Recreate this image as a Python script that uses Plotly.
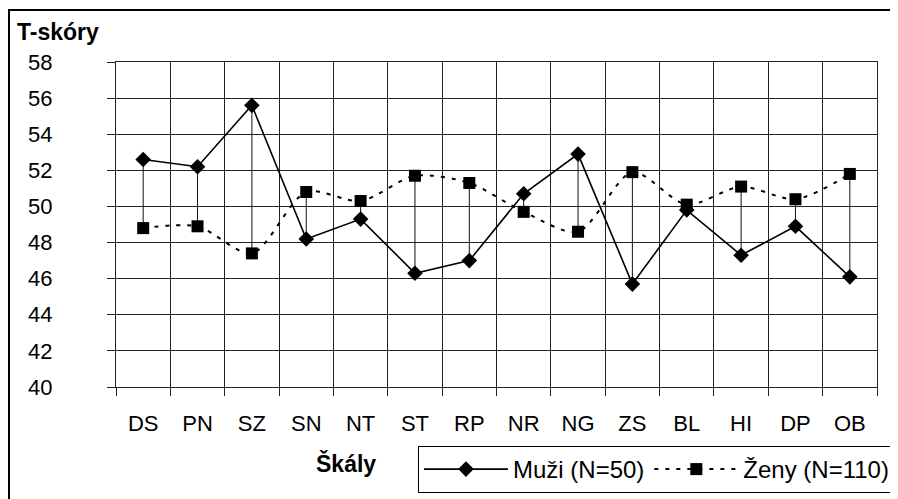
import plotly.graph_objects as go

categories = ["DS", "PN", "SZ", "SN", "NT", "ST", "RP", "NR", "NG", "ZS", "BL", "HI", "DP", "OB"]
muzi = [52.6, 52.2, 55.6, 48.2, 49.3, 46.3, 47.0, 50.7, 52.9, 45.7, 49.8, 47.3, 48.9, 46.1]
zeny = [48.8, 48.9, 47.4, 50.8, 50.3, 51.7, 51.3, 49.7, 48.6, 51.9, 50.1, 51.1, 50.4, 51.8]
y_ticks = [40, 42, 44, 46, 48, 50, 52, 54, 56, 58]

FONT = "Arial, Liberation Sans, sans-serif"

# high-low connector lines built from the two series
hx, hy = [], []
for c, m, z in zip(categories, muzi, zeny):
    hx += [c, c, None]
    hy += [m, z, None]

fig = go.Figure()
fig.add_trace(go.Scatter(x=hx, y=hy, mode="lines", line=dict(color="#111", width=1),
                         showlegend=False, hoverinfo="skip"))
fig.add_trace(go.Scatter(x=categories, y=muzi, name="Muži (N=50)", mode="lines+markers",
                         line=dict(color="black", width=1.6),
                         marker=dict(symbol="diamond", size=12, color="black")))
fig.add_trace(go.Scatter(x=categories, y=zeny, name="Ženy (N=110)", mode="lines+markers",
                         line=dict(color="black", width=2, dash="4px,7px", shape="spline", smoothing=0.8),
                         marker=dict(symbol="square", size=12, color="black")))

fig.update_layout(
    width=890, height=491,
    margin=dict(l=108, r=21, t=54, b=112, autoexpand=False),
    paper_bgcolor="white", plot_bgcolor="white",
    font=dict(family=FONT, size=22, color="black"),
    legend=dict(orientation="h", x=0.3968, y=-0.1815, xanchor="left", yanchor="top",
                bordercolor="black", borderwidth=1, bgcolor="white",
                font=dict(size=24), itemwidth=84, tracegroupgap=0),
    annotations=[
        dict(text="<b>T-skóry</b>", xref="paper", yref="paper", x=-0.1327, y=1.092,
             xanchor="left", yanchor="middle", showarrow=False, font=dict(size=23)),
        dict(text="<b>Škály</b>", xref="paper", yref="paper", x=0.302, y=-0.234,
             xanchor="center", yanchor="middle", showarrow=False, font=dict(size=23)),
    ],
    shapes=[
        dict(type="rect", xref="paper", yref="paper", x0=-0.1406, y0=1.16, x1=1.2, y1=-0.5,
             line=dict(color="black", width=2), layer="below"),
    ],
)

fig.update_xaxes(type="category", range=[-0.5, 13.5], tickson="boundaries",
                 showgrid=True, gridcolor="#222", gridwidth=1,
                 ticks="outside", ticklen=8, tickcolor="#222",
                 showline=True, linecolor="#222", mirror=True,
                 ticklabelstandoff=17, tickfont=dict(size=22))
fig.update_yaxes(range=[40, 58], tickvals=y_ticks,
                 showgrid=True, gridcolor="#222", gridwidth=1,
                 ticks="outside", ticklen=8, tickcolor="#222",
                 showline=True, linecolor="#222", mirror=True, zeroline=False,
                 ticklabelstandoff=50, tickfont=dict(size=22))

fig.write_html("out.html")
